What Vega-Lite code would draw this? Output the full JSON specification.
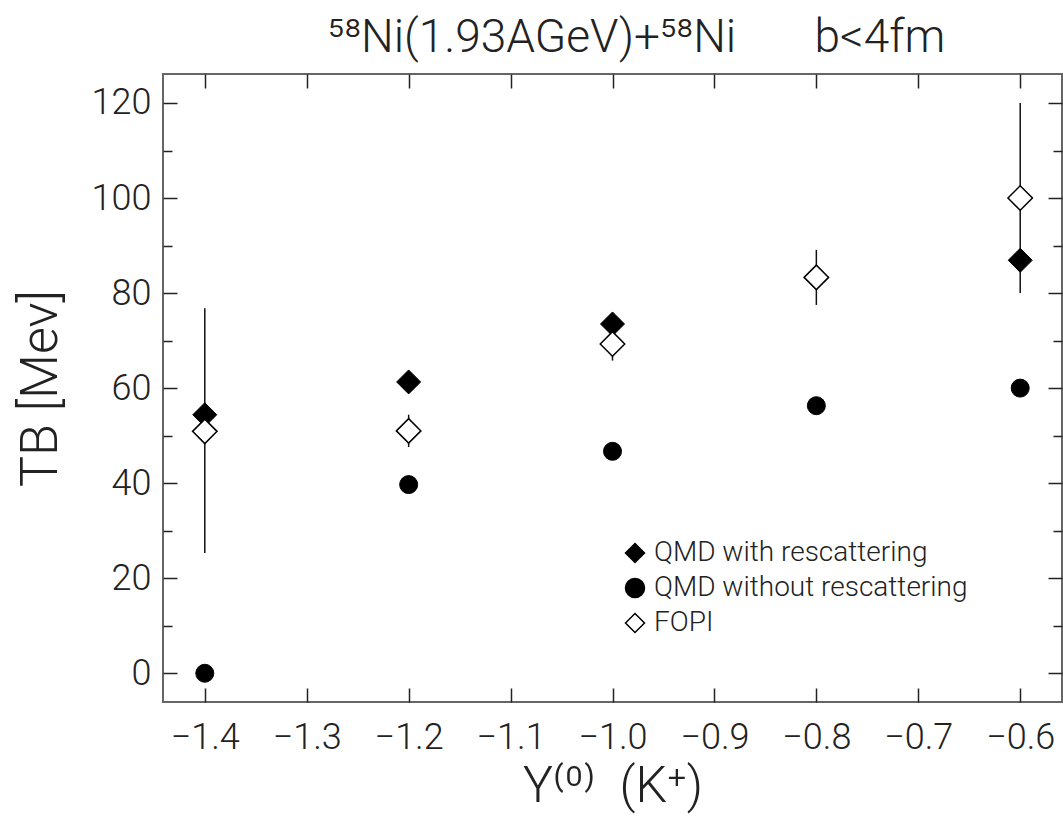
{
  "$schema": "https://vega.github.io/schema/vega-lite/v6.json",
  "width": 899,
  "height": 628,
  "autosize": {"type": "none"},
  "padding": {"left": 163, "top": 74, "right": 1, "bottom": 122},
  "background": "white",
  "title": {
    "text": "⁵⁸Ni(1.93AGeV)+⁵⁸Ni\u00a0\u00a0\u00a0\u00a0\u00a0\u00a0\u00a0b<4fm",
    "fontSize": 46,
    "font": "Roboto",
    "fontWeight": 300,
    "color": "#222",
    "offset": 11,
    "dx": 24
  },
  "config": {
    "view": {"stroke": "#666", "strokeWidth": 2},
    "axis": {
      "domain": false,
      "grid": false,
      "labelFont": "Roboto",
      "labelFontWeight": 300,
      "labelFontSize": 36,
      "labelColor": "#222",
      "titleFont": "Roboto",
      "titleFontWeight": 300,
      "titleColor": "#222",
      "tickColor": "#222",
      "tickWidth": 1.5
    },
    "legend": {
      "labelFont": "Roboto",
      "labelFontWeight": 300,
      "labelFontSize": 28,
      "labelColor": "#222",
      "labelLimit": 500
    }
  },
  "data": {
    "values": [
      {"series": "QMD with rescattering", "x": -1.4, "y": 54.4},
      {"series": "QMD with rescattering", "x": -1.2, "y": 61.3},
      {"series": "QMD with rescattering", "x": -1.0, "y": 73.5},
      {"series": "QMD with rescattering", "x": -0.6, "y": 86.9},
      {"series": "QMD without rescattering", "x": -1.4, "y": 0},
      {"series": "QMD without rescattering", "x": -1.2, "y": 39.7},
      {"series": "QMD without rescattering", "x": -1.0, "y": 46.7},
      {"series": "QMD without rescattering", "x": -0.8, "y": 56.3},
      {"series": "QMD without rescattering", "x": -0.6, "y": 60},
      {"series": "FOPI", "x": -1.4, "y": 50.9, "lo": 25.3, "hi": 76.8},
      {"series": "FOPI", "x": -1.2, "y": 51, "lo": 47.6, "hi": 54.4},
      {"series": "FOPI", "x": -1.0, "y": 69.3, "lo": 65.8, "hi": 72.8},
      {"series": "FOPI", "x": -0.8, "y": 83.3, "lo": 77.5, "hi": 89.1},
      {"series": "FOPI", "x": -0.6, "y": 100, "lo": 80, "hi": 120}
    ]
  },
  "resolve": {"axis": {"x": "independent", "y": "independent"}},
  "layer": [
    {
      "transform": [{"filter": "datum.series === 'FOPI'"}],
      "mark": {"type": "rule", "color": "#111", "strokeWidth": 1.5},
      "encoding": {
        "x": {
          "field": "x", "type": "quantitative",
          "scale": {"domain": [-1.441, -0.559], "nice": false, "zero": false},
          "axis": {
            "orient": "bottom",
            "values": [-1.4, -1.3, -1.2, -1.1, -1.0, -0.9, -0.8, -0.7, -0.6],
            "format": ".1f",
            "offset": -14,
            "tickSize": 14,
            "labelPadding": 18,
            "title": "Y⁽⁰⁾\u00a0\u00a0(K⁺)",
            "titleFontSize": 50,
            "titlePadding": 6
          }
        },
        "y": {
          "field": "lo", "type": "quantitative",
          "scale": {"domain": [-6.05, 126.1], "nice": false, "zero": false},
          "axis": {
            "orient": "left",
            "values": [0, 20, 40, 60, 80, 100, 120],
            "offset": -14,
            "tickSize": 14,
            "labelPadding": 12,
            "title": "TB\u00a0[Mev]",
            "titleFontSize": 52,
            "titlePadding": 24
          }
        },
        "y2": {"field": "hi"}
      }
    },
    {
      "transform": [{"filter": "datum.series === 'QMD with rescattering'"}],
      "mark": {"type": "point", "filled": true, "size": 576, "stroke": "black", "strokeWidth": 1, "opacity": 1},
      "encoding": {
        "x": {
          "field": "x", "type": "quantitative",
          "axis": {
            "orient": "top",
            "values": [-1.4, -1.3, -1.2, -1.1, -1.0, -0.9, -0.8, -0.7, -0.6],
            "offset": -14,
            "tickSize": 14,
            "labels": false,
            "title": null
          }
        },
        "y": {
          "field": "y", "type": "quantitative",
          "axis": {
            "orient": "right",
            "values": [0, 20, 40, 60, 80, 100, 120],
            "offset": -14,
            "tickSize": 14,
            "labels": false,
            "title": null
          }
        },
        "shape": {
          "field": "series", "type": "nominal",
          "scale": {"domain": ["QMD with rescattering", "QMD without rescattering", "FOPI"], "range": ["diamond", "circle", "diamond"]},
          "legend": {
            "title": null,
            "orient": "none",
            "legendX": 458,
            "legendY": 465,
            "symbolSize": 361,
            "rowPadding": 7,
            "labelOffset": 5,
            "encode": {"symbols": {"update": {"stroke": {"value": "black"}, "strokeWidth": {"value": 1.5}}}}
          }
        },
        "fill": {
          "field": "series", "type": "nominal",
          "scale": {"domain": ["QMD with rescattering", "QMD without rescattering", "FOPI"], "range": ["black", "black", "white"]},
          "legend": {
            "title": null,
            "orient": "none",
            "legendX": 458,
            "legendY": 465,
            "symbolSize": 361,
            "rowPadding": 7,
            "labelOffset": 5,
            "encode": {"symbols": {"update": {"stroke": {"value": "black"}, "strokeWidth": {"value": 1.5}}}}
          }
        }
      }
    },
    {
      "transform": [{"filter": "datum.series === 'QMD without rescattering'"}],
      "mark": {"type": "point", "filled": true, "size": 324, "stroke": "black", "strokeWidth": 1, "opacity": 1},
      "encoding": {
        "x": {"field": "x", "type": "quantitative", "axis": null},
        "y": {
          "field": "y", "type": "quantitative",
          "axis": {
            "orient": "left",
            "values": [10, 30, 50, 70, 90, 110],
            "offset": -9,
            "tickSize": 9,
            "labels": false,
            "title": null
          }
        },
        "shape": {"field": "series", "type": "nominal"},
        "fill": {"field": "series", "type": "nominal"}
      }
    },
    {
      "transform": [{"filter": "datum.series === 'FOPI'"}],
      "mark": {"type": "point", "filled": true, "size": 600, "stroke": "black", "strokeWidth": 1.5, "opacity": 1},
      "encoding": {
        "x": {"field": "x", "type": "quantitative", "axis": null},
        "y": {
          "field": "y", "type": "quantitative",
          "axis": {
            "orient": "right",
            "values": [10, 30, 50, 70, 90, 110],
            "offset": -9,
            "tickSize": 9,
            "labels": false,
            "title": null
          }
        },
        "shape": {"field": "series", "type": "nominal"},
        "fill": {"field": "series", "type": "nominal"}
      }
    }
  ]
}
